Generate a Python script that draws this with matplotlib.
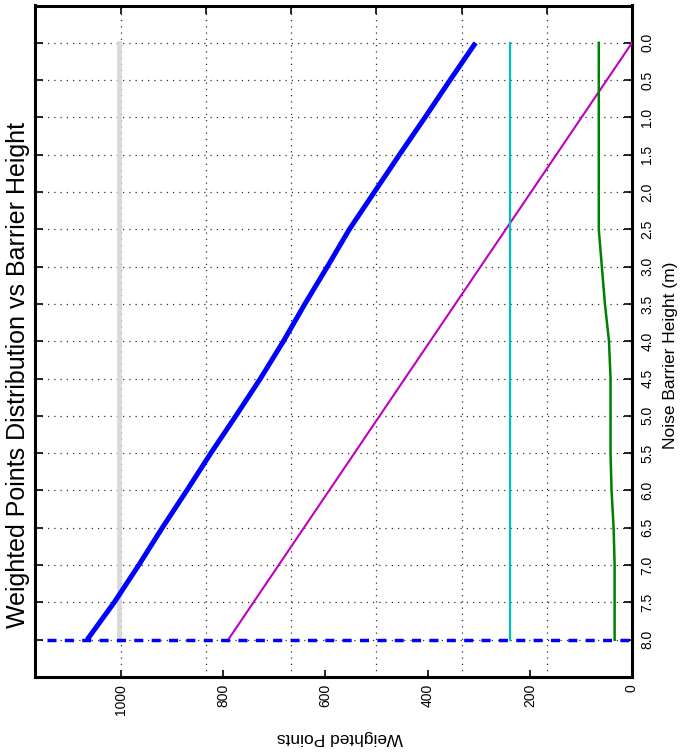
import matplotlib
matplotlib.use("Agg")
import matplotlib.pyplot as plt
from matplotlib.ticker import FormatStrFormatter

plt.rcParams['font.family'] = ['Liberation Sans', 'DejaVu Sans']

# Alturas de la barrera (m)
heights = [0.0, 0.5, 1.0, 1.5, 2.0, 2.5, 3.0, 3.5, 4.0, 4.5, 5.0, 5.5, 6.0, 6.5, 7.0, 7.5, 8.0]

# Series (puntos ponderados)
total_points = [306, 356, 405, 455, 504, 553, 596, 640, 682, 727, 775, 824, 871, 919, 965, 1013, 1066]
green_points = [65, 65, 65, 65, 65, 65, 59, 53, 45, 42, 42, 42, 40, 36, 34, 34, 34]

line_heights = [0.0, 8.0]
magenta_points = [0, 790]
cyan_points = [238, 238]
grey_points = [1003, 1003]

# Linea discontinua en la altura maxima
dashed_points = [1145, 0]
dashed_heights = [8.0, 8.0]

# Ticks
x_ticks = [0, 200, 400, 600, 800, 1000]
x_grid = [0, 166.7, 333.3, 500, 666.7, 833.3, 1000]

fig = plt.figure(figsize=(6.82, 7.55), dpi=100)
ax = fig.add_axes([35 / 682, 1 - 677 / 755, (632 - 35) / 682, (677 - 5.5) / 755])

ax.plot(grey_points, line_heights, color='#d9d9d9', lw=3.4, zorder=2)
ax.plot(total_points, heights, color='#0000ff', lw=3.6, zorder=4, solid_capstyle='butt')
ax.plot(magenta_points, line_heights, color='#bf00bf', lw=1.5, zorder=3)
ax.plot(cyan_points, line_heights, color='#00bfbf', lw=1.6, zorder=3)
ax.plot(green_points, heights, color='#008000', lw=1.8, zorder=3)
ax.plot(dashed_points, dashed_heights, color='#0000ff', lw=2.5, dashes=(2.6, 2.4), zorder=5)

ax.set_xlim(1168, 0)
ax.set_ylim(8.5, -0.5)

ax.set_xticks(x_ticks)
ax.set_xticks(x_grid, minor=True)
ax.xaxis.remove_overlapping_locs = False
ax.tick_params(axis='x', which='major', direction='in', bottom=True, top=False,
               length=5, width=1.2, labelsize=10, pad=5, labelrotation=90)
ax.tick_params(axis='x', which='minor', direction='in', bottom=False, top=True,
               length=6, width=1.2)

ax.set_yticks(heights)
ax.yaxis.set_major_formatter(FormatStrFormatter('%.1f'))
ax.tick_params(axis='y', which='major', direction='in', left=True, right=True,
               labelleft=False, labelright=True, length=6, width=1.2,
               labelsize=10, pad=6, labelrotation=90)
for lbl in ax.get_yticklabels():
    lbl.set_va('center')

ax.set_axisbelow(True)
ax.grid(axis='x', which='minor', color='#333333', linestyle=(0, (1, 4)), lw=0.9)
ax.grid(axis='y', which='major', color='#333333', linestyle=(0, (1, 4)), lw=0.9)

for s in ax.spines.values():
    s.set_linewidth(2.2)

fig.text(18 / 682, 1 - 375 / 755, 'Weighted Points Distribution vs Barrier Height',
         rotation=90, fontsize=18, ha='center', va='center')
fig.text(671 / 682, 1 - 355 / 755, 'Noise Barrier Height (m)',
         rotation=90, fontsize=12.5, ha='center', va='center')
fig.text(340 / 682, 1 - 737 / 755, 'Weighted Points',
         rotation=180, fontsize=12.5, ha='center', va='center')

fig.savefig('out.png', dpi=100)
